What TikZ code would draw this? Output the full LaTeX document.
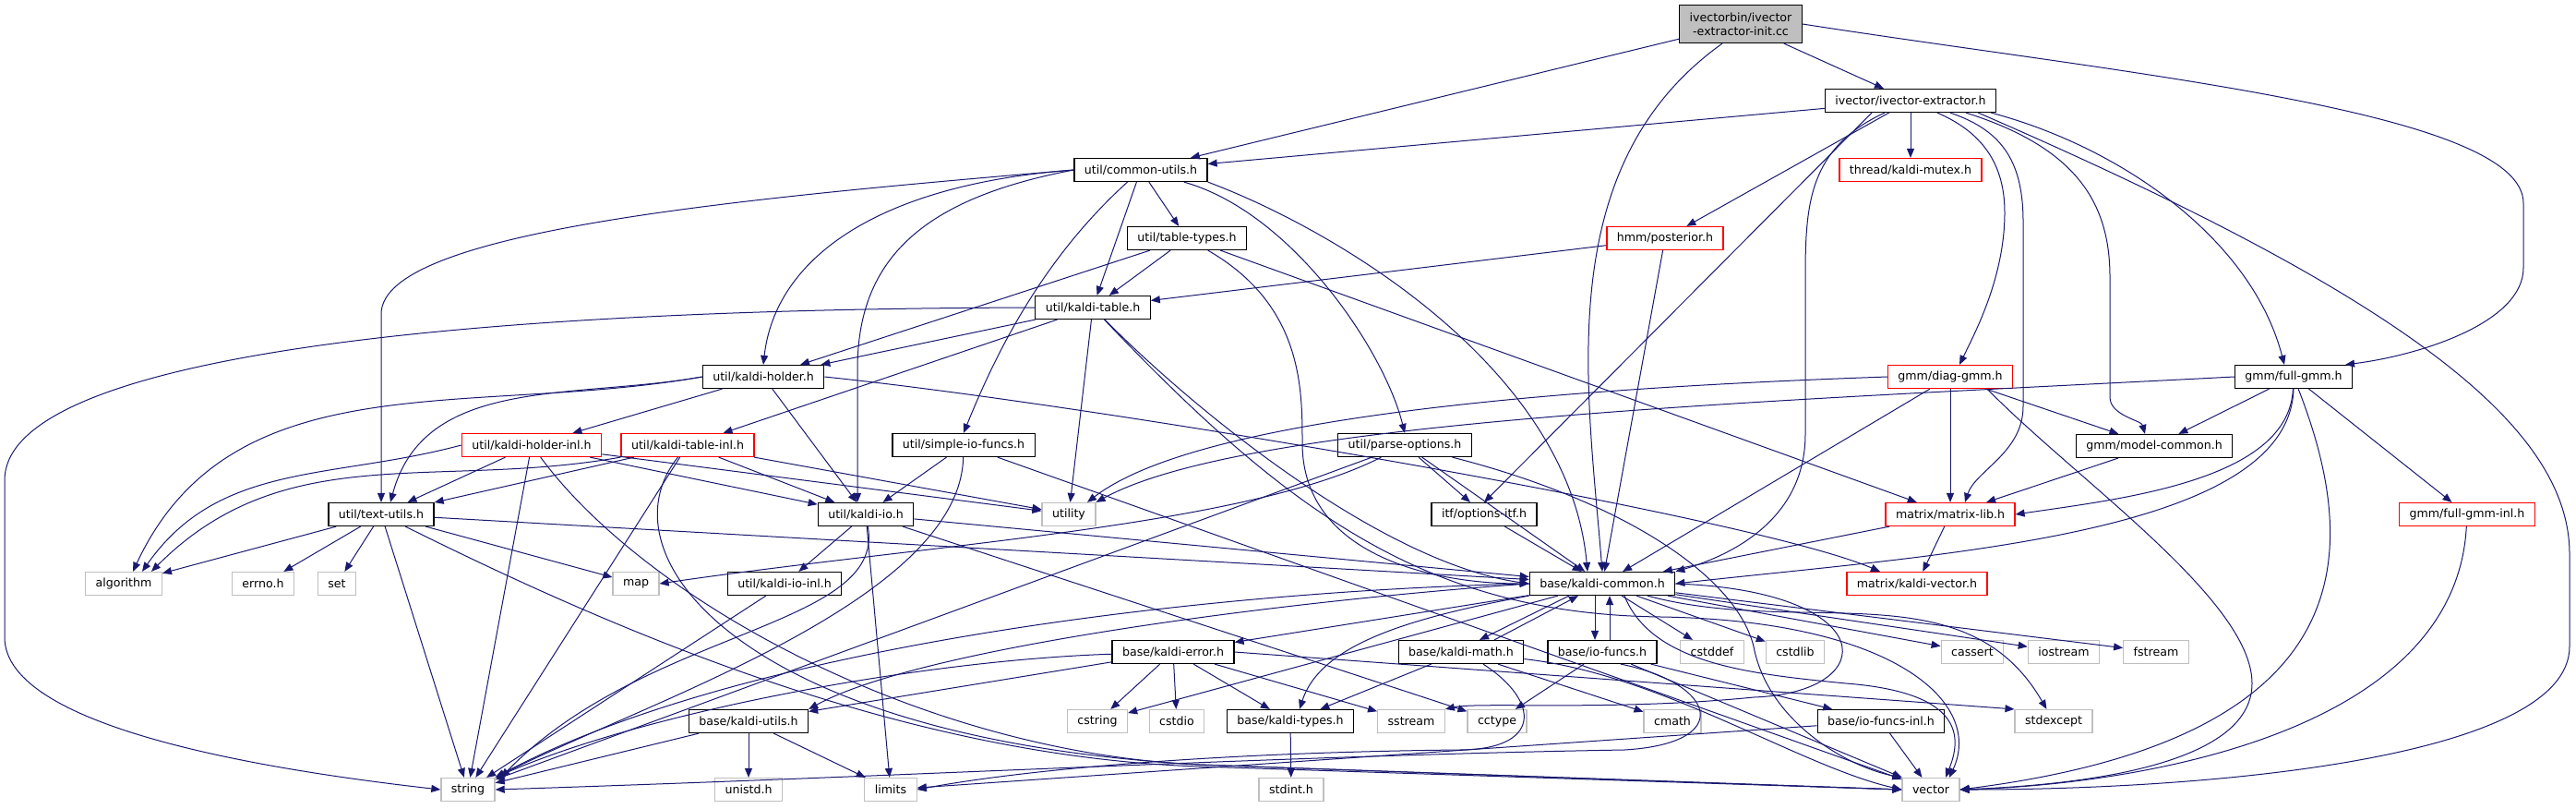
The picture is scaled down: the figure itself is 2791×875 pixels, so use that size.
\documentclass[tikz,border=0pt]{standalone}
\usepackage{fontspec}
\setmainfont{DejaVu Sans}
\usepackage{xcolor}
\usepackage{tikz}
\usetikzlibrary{arrows.meta}

\definecolor{edgeblue}{HTML}{191970}
\definecolor{sysgray}{HTML}{BFBFBF}

\tikzset{
  hdr/.style={draw=black, fill=white, line width=0.6pt, font=\fontsize{6.3}{7.6}\selectfont,
    minimum height=12.5pt, inner xsep=5.5pt, inner ysep=0pt},
  trunc/.style={hdr, draw=red},
  sysinc/.style={hdr, draw=sysgray},
  rootfile/.style={hdr, fill=sysgray, align=center, minimum height=20.5pt},
  dep/.style={draw=edgeblue, line width=0.5pt, -{Triangle[length=5pt,width=4pt]}}
}

\begin{document}
\begin{tikzpicture}[x=0.5pt, y=-0.5pt]
    \useasboundingbox (0,0) rectangle (2791,875);
    % top files
    \node[rootfile] (root) at (1886,26) {ivectorbin/ivector\\-extractor-init.cc};
    \node[hdr] (ext) at (2070,109) {ivector/ivector-extractor.h};
    \node[hdr] (cu) at (1236,184) {util/common-utils.h};
    \node[trunc] (mutex) at (2070,184) {thread/kaldi-mutex.h};
    \node[hdr] (tt) at (1286,258) {util/table-types.h};
    \node[trunc] (post) at (1804,258) {hmm/posterior.h};
    \node[hdr] (kt) at (1184,333) {util/kaldi-table.h};
    \node[hdr] (kh) at (827,408) {util/kaldi-holder.h};
    \node[trunc] (dg) at (2113,408) {gmm/diag-gmm.h};
    \node[hdr] (fg) at (2485,408) {gmm/full-gmm.h};
    \node[trunc] (khi) at (576,482) {util/kaldi-holder-inl.h};
    \node[trunc] (kti) at (745,482) {util/kaldi-table-inl.h};
    \node[hdr] (sio) at (1044,482) {util/simple-io-funcs.h};
    \node[hdr] (po) at (1522,482) {util/parse-options.h};
    \node[hdr] (mc) at (2334,483) {gmm/model-common.h};
    \node[sysinc] (util) at (1158,557) {utility};
    \node[hdr] (tu) at (413,557) {util/text-utils.h};
    \node[hdr] (kio) at (938,557) {util/kaldi-io.h};
    \node[hdr] (oi) at (1608,557) {itf/options-itf.h};
    \node[trunc] (ml) at (2113,557) {matrix/matrix-lib.h};
    \node[trunc] (fgi) at (2673,557) {gmm/full-gmm-inl.h};
    % base row
    \node[sysinc] (alg) at (134,632) {algorithm};
    \node[sysinc] (errno) at (285,632) {errno.h};
    \node[sysinc] (set) at (365,632) {set};
    \node[sysinc] (map) at (689,632) {map};
    \node[hdr] (kioi) at (850,632) {util/kaldi-io-inl.h};
    \node[hdr] (kc) at (1736,632) {base/kaldi-common.h};
    \node[trunc] (kv) at (2077,632) {matrix/kaldi-vector.h};
    \node[hdr] (ke) at (1271,706) {base/kaldi-error.h};
    \node[hdr] (km) at (1583,706) {base/kaldi-math.h};
    \node[hdr] (iof) at (1736,706) {base/io-funcs.h};
    \node[sysinc] (cstddef) at (1855,706) {cstddef};
    \node[sysinc] (cstdlib) at (1945,706) {cstdlib};
    \node[sysinc] (cassert) at (2137,706) {cassert};
    \node[sysinc] (iostream) at (2236,706) {iostream};
    \node[sysinc] (fstream) at (2336,706) {fstream};
    \node[hdr] (kut) at (811,781) {base/kaldi-utils.h};
    \node[sysinc] (cstring) at (1189,781) {cstring};
    \node[sysinc] (cstdio) at (1275,781) {cstdio};
    \node[hdr] (kty) at (1398,781) {base/kaldi-types.h};
    \node[sysinc] (sstream) at (1529,781) {sstream};
    \node[sysinc] (cctype) at (1622,781) {cctype};
    \node[sysinc] (cmath) at (1812,781) {cmath};
    \node[hdr] (iofi) at (2038,781) {base/io-funcs-inl.h};
    \node[sysinc] (stdexcept) at (2225,781) {stdexcept};
    \node[sysinc] (string) at (507,855) {string};
    \node[sysinc] (unistd) at (811,855) {unistd.h};
    \node[sysinc] (limits) at (965,855) {limits};
    \node[sysinc] (stdint) at (1399,855) {stdint.h};
    \node[sysinc] (vector) at (2092,855) {vector};

    % straight includes
    \foreach \src/\dst in {root/cu, root/ext, ext/cu, ext/mutex, ext/post,
        cu/tt, cu/kt, tt/kt, tt/kh, tt/ml, post/kt, post/kc,
        kt/kh, kt/kti, kt/util, kh/khi, kh/kio,
        khi/tu, khi/kio, khi/string, khi/util, kti/tu, kti/kio, kti/string, kti/util,
        sio/kio, sio/vector, po/oi, po/kc, po/string, oi/kc,
        ml/kc, ml/kv, mc/ml, dg/kc, dg/ml, dg/mc, fg/mc, fg/fgi,
        tu/alg, tu/errno, tu/set, tu/map, tu/string, tu/kc,
        kio/kioi, kio/kc, kio/limits, kio/cctype, kioi/string,
        kc/ke, kc/cstddef, kc/cstdlib, kc/cstring, kc/cassert, kc/iostream, kc/fstream,
        ke/cstring, ke/cstdio, ke/kty, ke/sstream, ke/kut,
        km/kty, km/cmath, iof/cctype, iof/iofi, iof/vector, iofi/vector, iofi/limits,
        kut/string, kut/unistd, kut/limits, kty/stdint}
      \draw[dep] (\src) -- (\dst);

    % curved includes
    \draw[dep] (root.east) .. controls (2300,80) and (2734,120) .. (2734,220) -- (2734,290)
      .. controls (2734,350) and (2620,385) .. ([xshift=28pt]fg.north);
    \draw[dep] ([xshift=-10pt]root.south) .. controls (1680,180) and (1720,420) .. (kc.north);
    \draw[dep] ([xshift=-21pt]ext.south) -- (oi.north);
    \draw[dep] ([xshift=-14pt]ext.south) .. controls (1960,160) and (1956,220) .. (1956,300)
      -- (1956,470) .. controls (1956,560) and (1880,600) .. (kc.north east);
    \draw[dep] ([xshift=14.5pt]ext.south) .. controls (2140,140) and (2172,170) .. (2172,230)
      .. controls (2172,300) and (2140,360) .. ([xshift=5pt]dg.north);
    \draw[dep] ([xshift=21.5pt]ext.south) .. controls (2165,140) and (2192,170) .. (2192,240)
      -- (2192,440) .. controls (2192,490) and (2140,510) .. ([xshift=8pt]ml.north);
    \draw[dep] ([xshift=30pt]ext.south) .. controls (2250,160) and (2286,220) .. (2286,300)
      -- (2286,430) .. controls (2286,450) and (2320,455) .. ([xshift=-5pt]mc.north);
    \draw[dep] ([xshift=-3pt]ext.south east) .. controls (2300,160) and (2440,260) .. ([xshift=-5pt]fg.north);
    \draw[dep] ([xshift=-10pt]ext.south east) .. controls (2600,320) and (2784,460) .. (2784,600)
      -- (2784,700) .. controls (2784,820) and (2400,855) .. (vector.east);
    \draw[dep] (cu.west) .. controls (800,215) and (413,250) .. (413,340) -- (tu.north);
    \draw[dep] (cu.west) .. controls (950,200) and (840,280) .. (kh.north);
    \draw[dep] (cu.west) .. controls (1000,215) and (929,280) .. (929,400) -- ([xshift=-4.5pt]kio.north);
    \draw[dep] (cu) .. controls (1130,280) and (1080,380) .. (sio.north);
    \draw[dep] (cu) .. controls (1400,230) and (1500,380) .. (po.north);
    \draw[dep] (cu.south east) .. controls (1450,250) and (1700,400) .. ([xshift=-8pt]kc.north);
    \draw[dep] (tt) .. controls (1411,330) and (1411,420) .. (1411,480)
      .. controls (1411,600) and (1550,632) .. (kc.west);
    \draw[dep] (kt) .. controls (1300,450) and (1500,610) .. (kc.west);
    \draw[dep] (kt.west) .. controls (400,335) and (5,400) .. (5,520) -- (5,690)
      .. controls (5,790) and (300,835) .. (string.west);
    \draw[dep] (kt) .. controls (1400,560) and (1550,665) .. (1800,668)
      .. controls (2050,672) and (2150,760) .. ([xshift=10pt]vector.north);
    \draw[dep] (kh.west) to[out=190, in=75] ([xshift=5pt]tu.north);
    \draw[dep] (kh.west) to[out=190, in=65] ([xshift=5pt]alg.north);
    \draw[dep] (kh.east) .. controls (1200,440) and (1900,560) .. ([xshift=-20pt]kv.north);
    \draw[dep] (khi.west) to[out=195, in=55] ([xshift=10pt]alg.north);
    \draw[dep] (kti.south west) to[out=190, in=45] ([xshift=15pt]alg.north);
    \draw[dep] (khi) .. controls (700,650) and (1000,815) .. (1300,828) -- (vector.west);
    \draw[dep] (kti) .. controls (650,600) and (800,800) .. (1300,828) -- (vector.west);
    \draw[dep] (tu) .. controls (700,700) and (1000,820) .. (1300,830) -- (vector.west);
    \draw[dep] (sio) .. controls (1040,650) and (700,760) .. (string.north east);
    \draw[dep] (po) .. controls (1350,570) and (1000,590) .. (map.east);
    \draw[dep] (po) .. controls (1750,540) and (1880,620) .. (1900,700)
      .. controls (1915,780) and (2000,830) .. (vector.north west);
    \draw[dep] (dg.west) .. controls (1700,420) and (1300,450) .. ([xshift=10pt]util.north);
    \draw[dep] (fg.west) .. controls (1900,435) and (1350,455) .. (util.north east);
    \draw[dep] (fg.south) .. controls (2480,580) and (2100,600) .. (kc.east);
    \draw[dep] (fg) .. controls (2480,520) and (2300,540) .. (ml.east);
    \draw[dep] (fg) .. controls (2560,600) and (2560,800) .. (vector.east);
    \draw[dep] (fgi) .. controls (2660,800) and (2300,850) .. (vector.east);
    \draw[dep] ([xshift=20pt]dg.south) .. controls (2250,520) and (2440,650) .. (2440,740)
      .. controls (2440,830) and (2250,850) .. (vector.east);
    \draw[dep] (kio) .. controls (960,680) and (700,680) .. ([xshift=3pt]string.north east);
    \draw[dep] (kc.west) .. controls (1300,640) and (800,700) .. (string.north east);
    \draw[dep] (kc.west) .. controls (1400,650) and (1000,700) .. (kut.north east);
    \draw[dep] (kc.south west) .. controls (1520,670) and (1430,700) .. ([xshift=5pt]kty.north);
    \draw[dep] (kc.east) .. controls (2040,640) and (2040,750) .. (1900,755)
      .. controls (1750,770) and (1600,760) .. (sstream.north east);
    \draw[dep] ([xshift=12pt]kc.south) .. controls (1790,720) and (1900,730) .. (2000,740)
      .. controls (2130,750) and (2125,800) .. ([xshift=8pt]vector.north);
    \draw[dep] (kc) to[out=-15, in=120] (stdexcept);
    % kaldi-common <-> kaldi-math, io-funcs
    \draw[dep] ([xshift=-18pt]kc.south) -- ([xshift=10pt]km.north);
    \draw[dep] ([xshift=18pt]km.north) -- ([xshift=-13pt]kc.south);
    \draw[dep] ([xshift=-4pt]kc.south) -- ([xshift=-4pt]iof.north);
    \draw[dep] ([xshift=4pt]iof.north) -- ([xshift=4pt]kc.south);
    \draw[dep] (ke) .. controls (1000,715) and (700,770) .. (string.north east);
    \draw[dep] (ke.east) -- (stdexcept.north west);
    \draw[dep] (km) .. controls (1800,730) and (1950,830) .. (vector.west);
    \draw[dep] ([xshift=12pt]km.south) .. controls (1670,760) and (1670,812) .. (1580,812)
      .. controls (1300,815) and (1100,835) .. (limits.east);
    \draw[dep] ([xshift=10pt]iof.south) .. controls (1860,740) and (1880,805) .. (1760,812)
      .. controls (1400,818) and (1000,840) .. (string.east);
  \end{tikzpicture}
\end{document}
